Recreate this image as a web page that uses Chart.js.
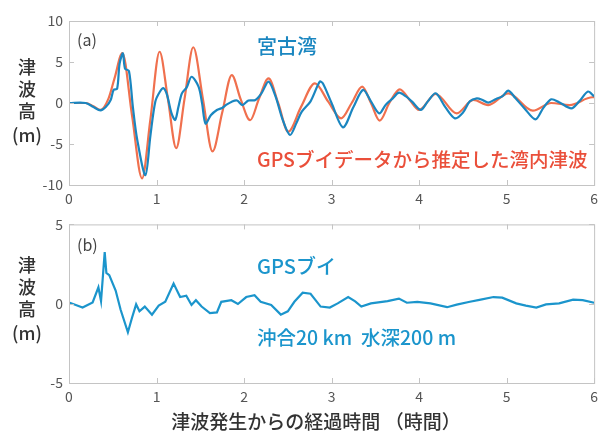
<!DOCTYPE html>
<html>
<head>
<meta charset="utf-8">
<script src="https://cdn.jsdelivr.net/npm/chart.js@4/dist/chart.umd.min.js"></script>
<style>
	body { margin: 0; background: #fff; }
	.panel { position: absolute; left: 0; }
</style>
</head>
<body>
<div class="panel" style="top:0"><canvas id="top" width="603" height="210"></canvas></div>
<div class="panel" style="top:210px"><canvas id="bottom" width="603" height="225"></canvas></div>
<script>
// (a) 宮古湾 observed
const bayTime = [0, 0.19, 0.28, 0.36, 0.42, 0.476, 0.51, 0.55, 0.578, 0.616, 0.64, 0.685, 0.73, 0.78, 0.873, 0.93, 0.986, 1.04, 1.08, 1.12, 1.17, 1.213, 1.25, 1.29, 1.345, 1.40, 1.48, 1.52, 1.56, 1.62, 1.69, 1.75, 1.80, 1.86, 1.92, 1.98, 2.05, 2.13, 2.2, 2.28, 2.36, 2.44, 2.525, 2.6, 2.66, 2.76, 2.865, 2.90, 3.0, 3.13, 3.25, 3.36, 3.45, 3.545, 3.62, 3.70, 3.77, 3.85, 3.92, 4.02, 4.1, 4.19, 4.3, 4.41, 4.5, 4.58, 4.66, 4.72, 4.79, 4.88, 4.95, 5.02, 5.1, 5.2, 5.33, 5.42, 5.51, 5.6, 5.74, 5.83, 5.93, 6.0];
const bayHeight = [0, 0, -0.5, -0.9, -0.5, 0.37, 1.6, 1.75, 4.8, 6.05, 4.2, 3.9, -0.5, -4.5, -8.8, -4, 0.16, 1.4, 1.8, 1.0, -1.2, -2.07, -0.5, 1.18, 1.9, 3.2, 2.0, 0, -2.5, -1.5, -0.85, -0.6, -0.2, 0.16, 0.3, -0.25, 0.3, 0.37, 1.2, 2.6, 0.8, -2, -3.9, -2.4, -1.06, 0.2, 2.6, 2.4, 0, -2.97, -0.5, 1.6, 0.2, -1.26, -0.2, 0.57, 1.26, 0.8, 0.16, -0.85, 0.2, 1.18, -0.5, -1.87, -1.2, 0.2, 0.57, 0.4, 0.04, 0.5, 0.8, 1.5, 0.6, -0.6, -2.0, -0.6, 0.45, 0.1, -0.65, 0.2, 1.4, 0.8];

// (a) estimated from GPS buoy
const estTime = [0, 0.19, 0.28, 0.36, 0.45, 0.52, 0.61, 0.72, 0.835, 0.93, 1.035, 1.13, 1.225, 1.32, 1.42, 1.53, 1.64, 1.75, 1.86, 1.96, 2.07, 2.17, 2.28, 2.39, 2.505, 2.65, 2.81, 2.96, 3.11, 3.23, 3.35, 3.45, 3.55, 3.66, 3.78, 3.89, 4.0, 4.19, 4.43, 4.62, 4.79, 5.02, 5.30, 5.51, 5.72, 5.98, 6.0];
const estHeight = [0, 0, -0.4, -0.85, 0.5, 3.0, 6.1, -1.5, -9.2, -2, 6.25, 0.5, -5.5, 0.5, 6.8, 0.5, -5.9, -1.2, 3.4, 0.5, -2.1, 0.5, 3.0, 0, -3.5, -0.5, 2.4, 0.2, -1.87, 0, 2.0, 0, -2.15, 0, 1.67, 0.4, -0.85, 1.1, -1.26, 0.37, -0.25, 1.18, -0.93, 0, -0.25, 0.7, 0.7];

// (b) GPS buoy offshore
const buoyTime = [0, 0.155, 0.27, 0.336, 0.366, 0.408, 0.427, 0.46, 0.533, 0.59, 0.673, 0.72, 0.767, 0.805, 0.866, 0.948, 1.025, 1.10, 1.195, 1.27, 1.34, 1.40, 1.45, 1.515, 1.61, 1.69, 1.74, 1.855, 1.93, 2.025, 2.12, 2.19, 2.31, 2.42, 2.50, 2.575, 2.67, 2.76, 2.875, 2.98, 3.07, 3.19, 3.27, 3.34, 3.45, 3.64, 3.77, 3.86, 3.98, 4.13, 4.32, 4.43, 4.58, 4.69, 4.85, 4.95, 5.11, 5.22, 5.34, 5.45, 5.60, 5.76, 5.87, 6.0];
const buoyHeight = [0.08, -0.24, 0.08, 1.03, 0.16, 3.25, 1.94, 1.8, 0.83, -0.38, -1.8, -0.89, -0.04, -0.48, -0.18, -0.69, -0.12, 0.12, 1.27, 0.42, 0.5, -0.08, 0.22, -0.18, -0.59, -0.55, 0.12, 0.22, -0.02, 0.42, 0.53, 0.12, -0.08, -0.69, -0.48, 0.12, 0.69, 0.63, -0.18, -0.24, 0.02, 0.42, 0.15, -0.18, 0.02, 0.16, 0.32, 0.06, 0.12, 0.02, -0.22, -0.06, 0.12, 0.24, 0.42, 0.38, 0.02, -0.12, -0.24, -0.04, 0.02, 0.26, 0.22, 0.06];

const xTicks = [0, 1, 2, 3, 4, 5, 6];

const BLUE = '#1a86c0';
const ORANGE = '#f0704e';
const JP = '"Noto Sans CJK JP", "Noto Sans", sans-serif';

const pts = (xs, ys) => xs.map((x, i) => ({ x: x, y: ys[i] }));

// box around plot area + small inward ticks, like matlab axes
const boxPlugin = {
	id: 'box',
	afterDraw(chart) {
		const ctx = chart.ctx, a = chart.chartArea;
		const xs = chart.scales.x, ys = chart.scales.y;
		ctx.save();
		ctx.strokeStyle = '#c4c4c4';
		ctx.lineWidth = 1;
		ctx.strokeRect(a.left + 0.5, a.top + 0.5, a.right - a.left, a.bottom - a.top);
		ctx.beginPath();
		xs.ticks.forEach(t => {
			const p = Math.round(xs.getPixelForValue(t.value)) + 0.5;
			ctx.moveTo(p, a.bottom); ctx.lineTo(p, a.bottom - 5);
			ctx.moveTo(p, a.top); ctx.lineTo(p, a.top + 5);
		});
		ys.ticks.forEach(t => {
			const p = Math.round(ys.getPixelForValue(t.value)) + 0.5;
			ctx.moveTo(a.left, p); ctx.lineTo(a.left + 5, p);
			ctx.moveTo(a.right, p); ctx.lineTo(a.right - 5, p);
		});
		ctx.stroke();
		ctx.restore();
	},
};

// text labels; each entry: [text, x, y, color, font, align]
const textPlugin = {
	id: 'texts',
	afterDraw(chart, args, opts) {
		const ctx = chart.ctx;
		ctx.save();
		ctx.textBaseline = 'middle';
		(opts.items || []).forEach(it => {
			ctx.fillStyle = it[3];
			ctx.font = it[4];
			ctx.textAlign = it[5] || 'left';
			ctx.fillText(it[0], it[1], it[2]);
		});
		ctx.restore();
	},
};

function yLabel(top) {
	const f = '500 18px ' + JP, c = '#333';
	return [
		['津', 27, top, c, f, 'center'],
		['波', 27, top + 22, c, f, 'center'],
		['高', 27, top + 44, c, f, 'center'],
		['(m)', 27, top + 68, c, f, 'center'],
	];
}

function makeOptions(yMin, yMax, yStep, padTop, xAxisHeight, items) {
	return {
		responsive: false,
		animation: false,
		layout: { padding: { top: padTop, right: 5, left: 0, bottom: 0 } },
		plugins: { legend: { display: false }, tooltip: { enabled: false }, texts: { items: items } },
		elements: { point: { radius: 0 } },
		scales: {
			x: {
				type: 'linear',
				min: 0, max: 6,
				afterBuildTicks: s => { s.ticks = xTicks.map(v => ({ value: v })); },
				grid: { display: false, drawTicks: false },
				border: { display: false },
				ticks: { padding: 5, color: '#555', font: { size: 14, family: JP } },
				afterFit: s => { s.height = xAxisHeight; },
			},
			y: {
				min: yMin, max: yMax,
				ticks: { stepSize: yStep, padding: 6, color: '#555', font: { size: 14, family: JP } },
				grid: { display: false, drawTicks: false },
				border: { display: false },
				afterFit: s => { s.width = 69; },
			},
		},
	};
}

new Chart(document.getElementById('top'), {
	type: 'line',
	data: {
		datasets: [
			{
				data: pts(bayTime, bayHeight),
				borderColor: BLUE, borderWidth: 2.2, tension: 0.3,
			},
			{
				data: pts(estTime, estHeight),
				borderColor: ORANGE, borderWidth: 2.2, cubicInterpolationMode: 'monotone',
			},
		],
	},
	options: makeOptions(-10, 10, 5, 21, 25, [
		['(a)', 77, 40, '#444', '16px ' + JP],
		['宮古湾', 257, 46, BLUE, '500 20px ' + JP],
		['GPSブイデータから推定した湾内津波', 257, 160, '#ea4f3a', '500 19.5px ' + JP],
	].concat(yLabel(67))),
	plugins: [boxPlugin, textPlugin],
});

new Chart(document.getElementById('bottom'), {
	type: 'line',
	data: {
		datasets: [
			{
				data: pts(buoyTime, buoyHeight),
				borderColor: '#1b95cc', borderWidth: 2.2, tension: 0,
			},
		],
	},
	options: makeOptions(-5, 5, 5, 8, 52, [
		['(b)', 77, 35, '#444', '16px ' + JP],
		['GPSブイ', 257, 56, '#1b95cc', '500 20px ' + JP],
		['沖合20 km  水深200 m', 257, 128, '#1b95cc', '500 19.5px ' + JP],
		['津波発生からの経過時間 （時間）', 316, 212, '#333', '500 19px ' + JP, 'center'],
	].concat(yLabel(55))),
	plugins: [boxPlugin, textPlugin],
});
</script>
</body>
</html>
